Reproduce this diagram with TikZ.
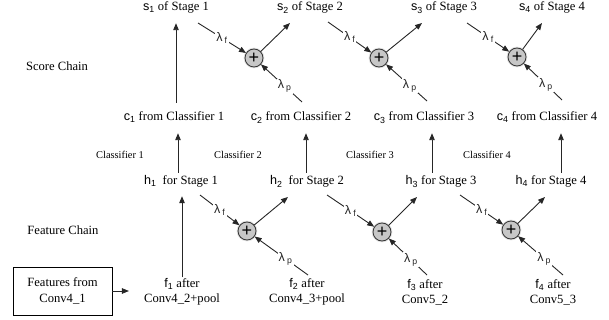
\documentclass[tikz,border=0pt]{standalone}
\usepackage{fontspec}
\setmainfont{Liberation Serif}
\newfontfamily\sff{Liberation Sans}
\usetikzlibrary{arrows.meta,calc}
\newcommand\myv[2]{{\sff #1\textsubscript{#2}}}
\begin{document}
\begin{tikzpicture}[x=1pt,y=1pt,
 txt/.style={inner sep=0pt, font=\fontsize{12.6}{15}\selectfont, text height=9pt, text depth=3pt},
 two/.style={inner sep=0pt, font=\fontsize{12.6}{15}\selectfont, align=center},
 small/.style={inner sep=0pt, font=\fontsize{10.4}{12}\selectfont},
 sumnode/.style={circle, draw=black!80, fill=black!22, minimum size=18pt, inner sep=0pt, line width=0.8pt,
   font=\sff\fontsize{18}{18}\selectfont, preaction={draw=black!12, line width=2.6pt}},
 arr/.style={-{Triangle[length=7pt,width=5.5pt]}, line width=0.9pt, black!85},
 lbl/.style={fill=white, inner sep=1.2pt, font=\sff\fontsize{12.5}{13}\selectfont},
]
\useasboundingbox (0,0) rectangle (609,-320);

% score chain
\node[txt] (s1) at (176,-8) {\myv{s}{1} of Stage 1};
\node[txt] (s2) at (310,-8) {\myv{s}{2} of Stage 2};
\node[txt] (s3) at (444,-8) {\myv{s}{3} of Stage 3};
\node[txt] (s4) at (552,-8) {\myv{s}{4} of Stage 4};
\node[txt] (sc) at (57,-68) {Score Chain};
\node[txt] (c1) at (174,-118) {\myv{c}{1} from Classifier 1};
\node[txt] (c2) at (301,-118) {\myv{c}{2} from Classifier 2};
\node[txt] (c3) at (424,-118) {\myv{c}{3} from Classifier 3};
\node[txt] (c4) at (547,-118) {\myv{c}{4} from Classifier 4};

\node[small] (k1) at (120,-155) {Classifier 1};
\node[small] (k2) at (238,-155) {Classifier 2};
\node[small] (k3) at (370,-155) {Classifier 3};
\node[small] (k4) at (487,-155) {Classifier 4};

% feature chain
\node[txt] (h1) at (181,-182) {\myv{h}{1}\ \ for Stage 1};
\node[txt] (h2) at (307,-182) {\myv{h}{2}\ \ for Stage 2};
\node[txt] (h3) at (441,-182) {\myv{h}{3} for Stage 3};
\node[txt] (h4) at (551,-182) {\myv{h}{4} for Stage 4};
\node[txt] (fc) at (63,-231) {Feature Chain};
\node[two] (f1) at (182,-292) {\myv{f}{1} after\\Conv4\_2+pool};
\node[two] (f2) at (307,-292) {\myv{f}{2} after\\Conv4\_3+pool};
\node[two] (f3) at (425,-292) {\myv{f}{3} after\\Conv5\_2};
\node[two] (f4) at (553,-292) {\myv{f}{4} after\\Conv5\_3};
\node[draw, line width=0.8pt, minimum width=99pt, minimum height=48pt, align=center,
      inner sep=0pt, font=\fontsize{12.6}{16}\selectfont] (box) at (62.5,-291) {Features from\\Conv4\_1};

% sum nodes
\node[sumnode] (p1) at (254,-58) {+};
\node[sumnode] (p2) at (379,-58) {+};
\node[sumnode] (p3) at (517,-57) {+};
\node[sumnode] (q1) at (247,-231) {+};
\node[sumnode] (q2) at (382,-232) {+};
\node[sumnode] (q3) at (511,-230) {+};

% line starts / arrow ends
\coordinate (a1) at (198,-23);  \coordinate (b1) at (302,-102); \coordinate (o1) at (290,-23);
\coordinate (a2) at (328,-22);  \coordinate (b2) at (427,-101); \coordinate (o2) at (422,-23);
\coordinate (a3) at (467,-23);  \coordinate (b3) at (562,-100); \coordinate (o3) at (542,-23);
\coordinate (d1) at (200,-195); \coordinate (e1) at (308,-275); \coordinate (g1) at (288,-197);
\coordinate (d2) at (327,-195); \coordinate (e2) at (427,-275); \coordinate (g2) at (417,-197);
\coordinate (d3) at (460,-195); \coordinate (e3) at (563,-275); \coordinate (g3) at (545,-197);

% vertical arrows
\draw[arr, shorten <=9pt, shorten >=9pt] (c1.north -| s1) -- (s1.south);
\draw[arr, shorten <=3pt, shorten >=9pt] ([xshift=-3pt]h1.north) -- ([xshift=-3pt]h1.north |- c1.south);
\draw[arr, shorten <=3pt, shorten >=9pt] ([xshift=-1pt]h2.north) -- ([xshift=-1pt]h2.north |- c2.south);
\draw[arr, shorten <=3pt, shorten >=9pt] ([xshift=-9pt]h3.north) -- ([xshift=-9pt]h3.north |- c3.south);
\draw[arr, shorten <=3pt, shorten >=9pt] ([xshift=10pt]h4.north) -- ([xshift=10pt]h4.north |- c4.south);
\draw[arr, shorten <=1pt, shorten >=8pt] (f1.north) -- (f1.north |- h1.south);
\draw[arr, shorten >=15pt] (box.east) -- (box.east -| f1.west);

% sums
\foreach \p/\a/\b/\o in {p1/a1/b1/o1, p2/a2/b2/o2, p3/a3/b3/o3, q1/d1/e1/g1, q2/d2/e2/g2, q3/d3/e3/g3}{
  \draw[arr] (\a) -- node[lbl, pos=0.5] {λ\,\textsubscript{f}} (\p);
  \draw[arr] (\b) -- node[lbl, pos=0.42] {λ\,\textsubscript{p}} (\p);
  \draw[arr] (\p) -- (\o);
}
\end{tikzpicture}
\end{document}
